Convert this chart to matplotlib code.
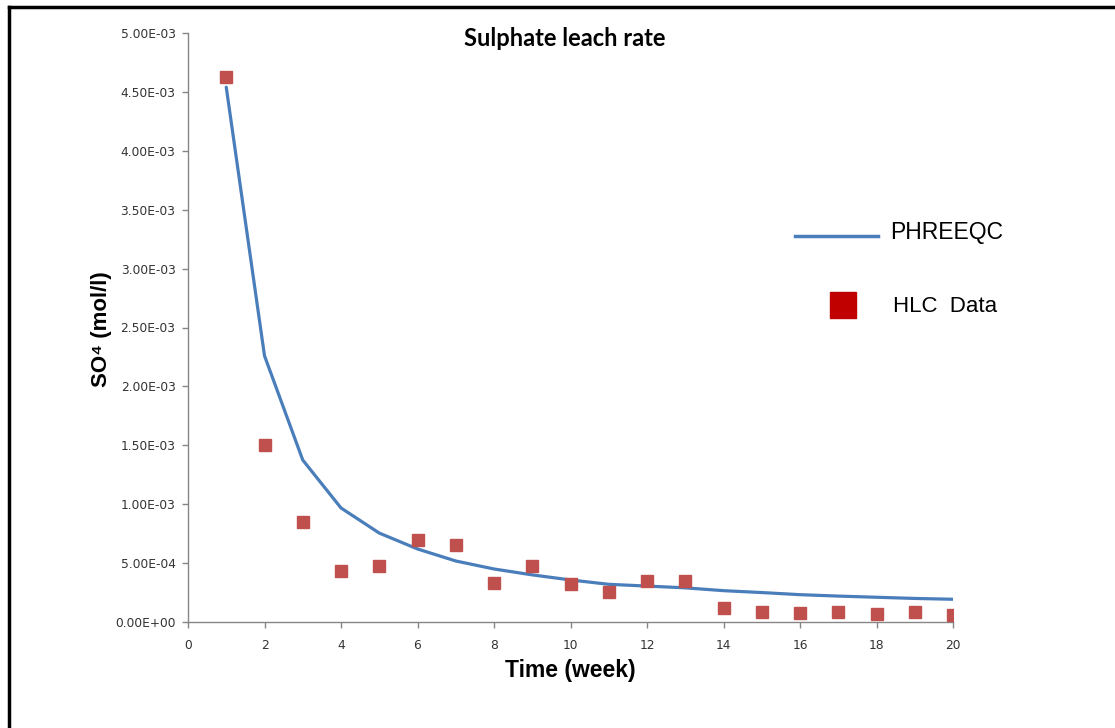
import matplotlib
matplotlib.use("Agg")
import matplotlib.pyplot as plt
from matplotlib.lines import Line2D
from matplotlib.ticker import FuncFormatter

weeks = list(range(1, 21))
phreeqc = [4.54e-3, 2.26e-3, 1.375e-3, 0.968e-3, 0.755e-3, 0.62e-3, 0.518e-3, 0.45e-3,
           0.40e-3, 0.357e-3, 0.32e-3, 0.305e-3, 0.29e-3, 0.266e-3, 0.25e-3, 0.232e-3,
           0.22e-3, 0.21e-3, 0.20e-3, 0.193e-3]
hlc = [4.63e-3, 1.50e-3, 0.85e-3, 0.43e-3, 0.475e-3, 0.70e-3, 0.654e-3, 0.33e-3,
       0.475e-3, 0.32e-3, 0.255e-3, 0.348e-3, 0.348e-3, 0.119e-3, 0.085e-3, 0.076e-3,
       0.085e-3, 0.068e-3, 0.085e-3, 0.057e-3]
x_ticks = list(range(0, 21, 2))
y_ticks = [i * 0.5e-3 for i in range(11)]

W, H = 1115, 728
fig = plt.figure(figsize=(W / 100, H / 100), dpi=100)
ax = fig.add_axes([188 / W, 1 - 622 / H, (953 - 188) / W, (622 - 33) / H])

line_color = "#4A7EBB"
mk_color = "#C0504D"

ax.plot(weeks, phreeqc, color=line_color, lw=2.3, solid_capstyle="round", zorder=2)
ax.plot(weeks, hlc, ls="none", marker="s", ms=9.3, color=mk_color, mec=mk_color, zorder=3)

ax.set_xlim(0, 20)
ax.set_ylim(0, 5e-3)
ax.set_xticks(x_ticks)
ax.set_yticks(y_ticks)

def fmt(v, pos):
    if v == 0:
        return "0.00E+00"
    return "%.2E" % v

ax.yaxis.set_major_formatter(FuncFormatter(fmt))
for s in ["top", "right"]:
    ax.spines[s].set_visible(False)
for s in ["left", "bottom"]:
    ax.spines[s].set_color("#868686")
    ax.spines[s].set_linewidth(1.0)
ax.tick_params(axis="both", direction="out", length=4, width=1, color="#868686",
               labelsize=8.8, labelcolor="#333333")
ax.tick_params(axis="x", pad=8)
ax.tick_params(axis="y", pad=5)

fig.text(565 / W, 1 - 39 / H, "Sulphate leach rate", ha="center", va="center",
         fontsize=17, fontweight="bold", family=["Lato", "DejaVu Sans"])
fig.text(570 / W, 1 - 671 / H, "Time (week)", ha="center", va="center",
         fontsize=16.5, fontweight="bold", family=["Liberation Sans", "DejaVu Sans"])
fig.text(101 / W, 1 - 329 / H, "SO\u2074 (mol/l)", ha="center", va="center", rotation=90,
         fontsize=16, fontweight="bold", family=["Liberation Sans", "DejaVu Sans"])

# legend
fig.add_artist(Line2D([795 / W, 878 / W], [1 - 236 / H, 1 - 236 / H], color=line_color,
                      lw=2.5, transform=fig.transFigure))
fig.text(890 / W, 1 - 233 / H, "PHREEQC", ha="left", va="center", fontsize=16.5,
         family=["Liberation Sans", "DejaVu Sans"])
fig.add_artist(Line2D([843 / W], [1 - 305 / H], marker="s", ms=19, color="#C00000",
                      ls="none", transform=fig.transFigure))
fig.text(893 / W, 1 - 306 / H, "HLC  Data", ha="left", va="center", fontsize=16,
         family=["Liberation Sans", "DejaVu Sans"])

# outer frame (top and left visible)
fig.add_artist(Line2D([9 / W, 1.0], [1 - 7 / H, 1 - 7 / H], color="black", lw=2.5,
                      transform=fig.transFigure))
fig.add_artist(Line2D([9 / W, 9 / W], [0, 1 - 7 / H], color="black", lw=2.5,
                      transform=fig.transFigure))

fig.savefig("out.png", dpi=100, facecolor="white")
